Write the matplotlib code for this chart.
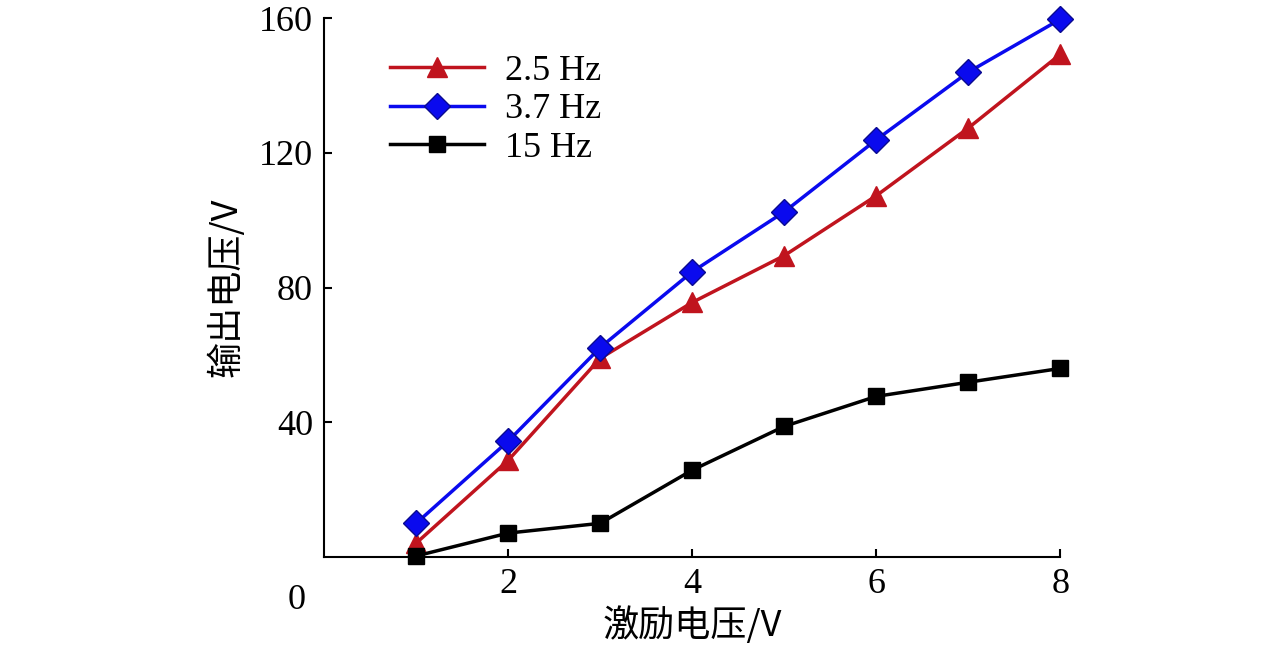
import matplotlib as mpl
import matplotlib.pyplot as plt
from matplotlib import font_manager

# pick whichever CJK family is actually registered
cjk = next((f.name for f in font_manager.fontManager.ttflist if "CJK" in f.name), "Noto Sans CJK SC")

mpl.rcParams.update({
    "font.family": ["Liberation Serif", cjk],
    "font.size": 26,
    "axes.spines.top": False, "axes.spines.right": False,
    "xtick.direction": "in", "ytick.direction": "in",
})

excitation = [1, 2, 3, 4, 5, 6, 7, 8]
out_2_5hz = [4.1, 28.7, 59.0, 75.6, 89.5, 107.3, 127.4, 149.3]
out_3_7hz = [10.0, 34.4, 62.2, 84.7, 102.5, 123.9, 144.0, 159.7]
out_15hz = [0.3, 7.1, 10.0, 25.8, 38.8, 47.7, 51.9, 56.0]

fig = plt.figure(figsize=(12.76, 6.51), dpi=100)
ax = fig.add_axes([0.254, 0.1444, 0.577, 0.8276])

ax.plot(excitation, out_2_5hz, "-^", color="#c0141e", lw=2.5, ms=15, label="2.5 Hz", clip_on=False)
ax.plot(excitation, out_3_7hz, "-D", color="#0a0aee", mec="#0a0a90", lw=2.5, ms=13, label="3.7 Hz", clip_on=False)
ax.plot(excitation, out_15hz, "-s", color="black", lw=2.5, ms=12, label="15 Hz", clip_on=False)

ax.set_xlim(0, 8)
ax.set_ylim(0, 160)
ax.set_xticks([2, 4, 6, 8])
ax.set_yticks([40, 80, 120, 160])
ax.text(-0.3, -8, "0", ha="center", va="top")
ax.tick_params(length=6, width=1.5, pad=8)
for s in ("left", "bottom"):
    ax.spines[s].set_linewidth(1.5)
ax.set_xlabel("激励电压/V", fontfamily=cjk, labelpad=4)
ax.set_ylabel("输出电压/V", fontfamily=cjk, labelpad=10)
ax.legend(loc="upper left", frameon=False, handlelength=2.6, borderaxespad=0.3,
          labelspacing=0.15, handletextpad=0.6, bbox_to_anchor=(0.055, 0.98))

fig.savefig("out.png", dpi=100)
